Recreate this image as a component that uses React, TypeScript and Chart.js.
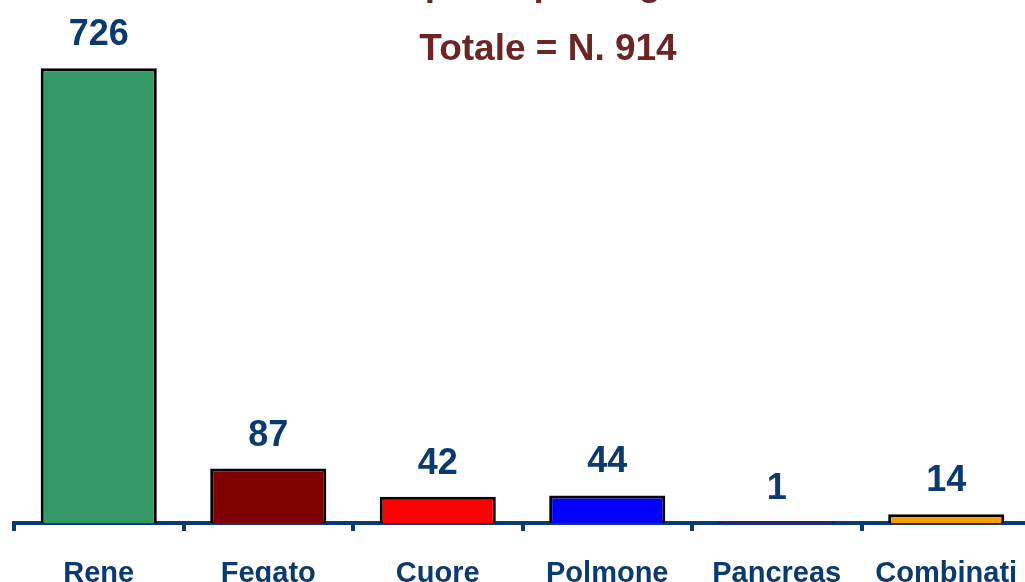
import React, { useEffect, useRef } from "react";
import { Chart, registerables } from "chart.js";

Chart.register(...registerables);

const categories = ["Rene", "Fegato", "Cuore", "Polmone", "Pancreas", "Combinati"];
const values = [726, 87, 42, 44, 1, 14];
const barColors = ["#339966", "#800000", "#FF0000", "#0000FF", "#FF00FF", "#FF9900"];
const titleLines = ["Trapianti per organo", "Totale = N. 914"];

const NAVY = "#0A3A6E";
const TITLE_COLOR = "#6B2525";
const FONT = '"Liberation Sans", Arial, sans-serif';

const overlayPlugin = {
  id: "overlay",
  afterDraw(chart: any) {
    const ctx = chart.ctx;
    ctx.save();
    ctx.textAlign = "center";
    ctx.textBaseline = "alphabetic";
    ctx.fillStyle = TITLE_COLOR;
    ctx.font = `bold 37px ${FONT}`;
    const cx = chart.width / 2;
    ctx.fillText(titleLines[0], cx, -5);
    ctx.fillText(titleLines[1], cx, 60);
    const meta = chart.getDatasetMeta(0);
    ctx.fillStyle = NAVY;
    ctx.font = `bold 36px ${FONT}`;
    meta.data.forEach((bar: any, i: number) => {
      ctx.fillText(String(values[i]), bar.x, bar.y - 23);
    });
    ctx.restore();
  },
};

export default function App() {
  const ref = useRef<HTMLCanvasElement | null>(null);
  useEffect(() => {
    if (!ref.current) return;
    const chart = new Chart(ref.current, {
      type: "bar",
      data: {
        labels: categories,
        datasets: [
          {
            data: values,
            backgroundColor: barColors,
            borderColor: "#000000",
            borderWidth: 3,
            barPercentage: 0.685,
            categoryPercentage: 1,
          },
        ],
      },
      options: {
        responsive: false,
        animation: false,
        devicePixelRatio: 1,
        layout: { padding: { top: 22, left: 14, right: 65, bottom: 0 } },
        plugins: {
          legend: { display: false },
          title: { display: false },
          tooltip: { enabled: false },
        },
        scales: {
          x: {
            z: 1,
            afterFit: (s: any) => {
              s.height = 77;
            },
            grid: {
              display: true,
              offset: true,
              drawOnChartArea: false,
              drawTicks: true,
              tickLength: 8,
              lineWidth: 4,
              color: NAVY,
            },
            border: { display: true, width: 4, color: NAVY },
            ticks: {
              color: NAVY,
              font: { family: FONT, size: 29, weight: "bold" },
              padding: 26,
              maxRotation: 0,
              autoSkip: false,
            },
          },
          y: { display: false, min: 0, max: 800 },
        },
      },
      plugins: [overlayPlugin],
    } as any);
    return () => chart.destroy();
  }, []);
  return (
    <div
      style={{
        position: "fixed",
        left: 0,
        top: 0,
        width: 1025,
        height: 582,
        overflow: "hidden",
        background: "#fff",
      }}
    >
      <canvas
        ref={ref}
        width={1096}
        height={600}
        style={{ display: "block", width: 1096, height: 600 }}
      />
    </div>
  );
}
